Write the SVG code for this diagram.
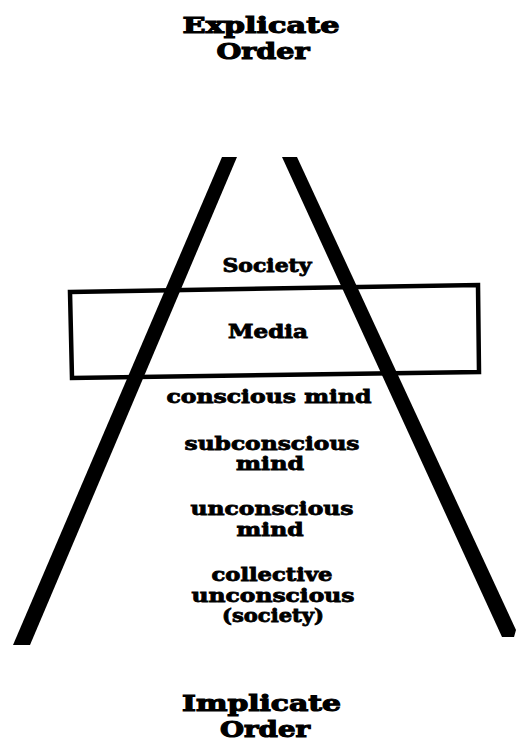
<svg xmlns="http://www.w3.org/2000/svg" width="516" height="742" viewBox="0 0 516 742">
<style>
.t{font-family:"DejaVu Serif","Liberation Serif",serif;font-weight:bold;fill:#000;stroke:#000;text-anchor:middle}
.big{font-size:22px;stroke-width:1.1}
.lab{font-size:18px;stroke-width:0.8}
.bar{fill:#000}
</style>
<rect width="516" height="742" fill="#fff"/>
<g id="explicate"><text class="t big" x="261" y="33" textLength="157" lengthAdjust="spacingAndGlyphs">Explicate</text><text class="t big" x="263" y="59" textLength="93" lengthAdjust="spacingAndGlyphs">Order</text></g>
<g id="pyramid">
<polygon class="bar" points="222,157 237,157 30,645 13,645"/>
<polygon class="bar" points="282,157 297,157 516,630 514,637 502,637"/>
</g>
<g id="media-box"><polygon points="70,292 478,285 479,372 72,378" fill="none" stroke="#000" stroke-width="4.5"/></g>
<g id="society"><text class="t lab" x="267" y="272" textLength="89" lengthAdjust="spacingAndGlyphs">Society</text></g>
<g id="media"><text class="t lab" x="268" y="338" textLength="80" lengthAdjust="spacingAndGlyphs">Media</text></g>
<g id="conscious"><text class="t lab" x="269" y="403" textLength="205" lengthAdjust="spacingAndGlyphs">conscious mind</text></g>
<g id="subconscious"><text class="t lab" x="272" y="450" textLength="175" lengthAdjust="spacingAndGlyphs">subconscious</text><text class="t lab" x="270" y="470" textLength="68" lengthAdjust="spacingAndGlyphs">mind</text></g>
<g id="unconscious"><text class="t lab" x="272" y="515" textLength="163" lengthAdjust="spacingAndGlyphs">unconscious</text><text class="t lab" x="270" y="536" textLength="67" lengthAdjust="spacingAndGlyphs">mind</text></g>
<g id="collective"><text class="t lab" x="272" y="581" textLength="121" lengthAdjust="spacingAndGlyphs">collective</text><text class="t lab" x="273" y="602" textLength="163" lengthAdjust="spacingAndGlyphs">unconscious</text><text class="t lab" x="273" y="622" textLength="102" lengthAdjust="spacingAndGlyphs">(society)</text></g>
<g id="implicate"><text class="t big" x="261.5" y="711" textLength="159" lengthAdjust="spacingAndGlyphs">Implicate</text><text class="t big" x="265" y="737" textLength="90" lengthAdjust="spacingAndGlyphs">Order</text></g>
</svg>
